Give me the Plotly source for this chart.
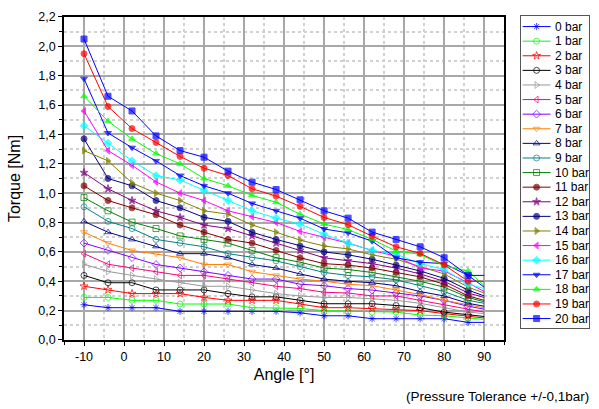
import plotly.graph_objects as go

angles = [-10, -4, 2, 8, 14, 20, 26, 32, 38, 44, 50, 56, 62, 68, 74, 80, 86, 90]
marker_angles_count = 17

x_tick_values = [-10, 0, 10, 20, 30, 40, 50, 60, 70, 80, 90]
x_tick_labels = ["-10", "0", "10", "20", "30", "40", "50", "60", "70", "80", "90"]

pressures = ["0 bar", "1 bar", "2 bar", "3 bar", "4 bar", "5 bar", "6 bar", "7 bar",
             "8 bar", "9 bar", "10 bar", "11 bar", "12 bar", "13 bar", "14 bar",
             "15 bar", "16 bar", "17 bar", "18 bar", "19 bar", "20 bar"]

torque_0 = [0.24, 0.22, 0.22, 0.22, 0.195, 0.195, 0.195, 0.195, 0.195, 0.185, 0.165, 0.165, 0.145, 0.145, 0.145, 0.145, 0.12, 0.12]
torque_1 = [0.29, 0.29, 0.27, 0.27, 0.245, 0.245, 0.245, 0.22, 0.22, 0.215, 0.20, 0.197, 0.19, 0.19, 0.17, 0.165, 0.15, 0.14]
torque_2 = [0.366, 0.341, 0.316, 0.316, 0.316, 0.29, 0.27, 0.27, 0.27, 0.245, 0.22, 0.22, 0.215, 0.21, 0.20, 0.18, 0.165, 0.15]
torque_3 = [0.44, 0.39, 0.39, 0.341, 0.341, 0.341, 0.316, 0.294, 0.294, 0.27, 0.247, 0.247, 0.247, 0.235, 0.22, 0.19, 0.17, 0.16]
torque_4 = [0.516, 0.467, 0.44, 0.415, 0.39, 0.366, 0.366, 0.341, 0.316, 0.30, 0.29, 0.29, 0.28, 0.27, 0.25, 0.22, 0.19, 0.18]
torque_5 = [0.588, 0.516, 0.49, 0.465, 0.44, 0.44, 0.415, 0.39, 0.366, 0.35, 0.325, 0.32, 0.30, 0.30, 0.27, 0.24, 0.21, 0.19]
torque_6 = [0.66, 0.61, 0.561, 0.514, 0.49, 0.465, 0.44, 0.415, 0.415, 0.38, 0.37, 0.35, 0.34, 0.32, 0.30, 0.27, 0.23, 0.21]
torque_7 = [0.734, 0.66, 0.61, 0.588, 0.561, 0.514, 0.514, 0.465, 0.44, 0.415, 0.40, 0.38, 0.37, 0.34, 0.31, 0.27, 0.24, 0.22]
torque_8 = [0.808, 0.734, 0.685, 0.638, 0.588, 0.588, 0.561, 0.514, 0.49, 0.45, 0.415, 0.40, 0.39, 0.37, 0.33, 0.30, 0.25, 0.23]
torque_9 = [0.907, 0.808, 0.759, 0.685, 0.66, 0.635, 0.588, 0.561, 0.539, 0.50, 0.46, 0.44, 0.43, 0.41, 0.37, 0.33, 0.27, 0.25]
torque_10 = [0.97, 0.88, 0.803, 0.759, 0.709, 0.685, 0.66, 0.61, 0.561, 0.53, 0.49, 0.48, 0.46, 0.43, 0.40, 0.36, 0.29, 0.26]
torque_11 = [1.05, 0.95, 0.90, 0.853, 0.783, 0.734, 0.685, 0.66, 0.61, 0.56, 0.52, 0.51, 0.49, 0.46, 0.43, 0.38, 0.30, 0.27]
torque_12 = [1.14, 1.03, 0.95, 0.88, 0.835, 0.783, 0.759, 0.709, 0.66, 0.61, 0.56, 0.54, 0.52, 0.49, 0.45, 0.40, 0.32, 0.29]
torque_13 = [1.37, 1.10, 1.05, 0.95, 0.90, 0.835, 0.808, 0.734, 0.685, 0.64, 0.60, 0.58, 0.55, 0.51, 0.47, 0.42, 0.34, 0.30]
torque_14 = [1.29, 1.22, 1.07, 1.00, 0.95, 0.88, 0.857, 0.783, 0.734, 0.68, 0.64, 0.62, 0.58, 0.55, 0.50, 0.45, 0.36, 0.32]
torque_15 = [1.56, 1.29, 1.19, 1.077, 1.00, 0.95, 0.88, 0.84, 0.80, 0.74, 0.70, 0.66, 0.61, 0.57, 0.49, 0.47, 0.39, 0.33]
torque_16 = [1.46, 1.34, 1.22, 1.12, 1.09, 1.02, 0.95, 0.88, 0.83, 0.79, 0.72, 0.66, 0.61, 0.585, 0.52, 0.48, 0.38, 0.35]
torque_17 = [1.78, 1.41, 1.31, 1.22, 1.12, 1.05, 1.00, 0.93, 0.88, 0.83, 0.756, 0.73, 0.673, 0.56, 0.53, 0.52, 0.44, 0.36]
torque_18 = [1.66, 1.49, 1.37, 1.27, 1.20, 1.10, 1.05, 0.985, 0.938, 0.857, 0.79, 0.752, 0.685, 0.606, 0.583, 0.505, 0.47, 0.37]
torque_19 = [1.95, 1.59, 1.44, 1.345, 1.25, 1.17, 1.12, 1.03, 0.98, 0.91, 0.835, 0.785, 0.707, 0.635, 0.59, 0.512, 0.40, 0.40]
torque_20 = [2.05, 1.66, 1.56, 1.39, 1.29, 1.245, 1.15, 1.075, 1.025, 0.955, 0.88, 0.83, 0.735, 0.685, 0.635, 0.56, 0.44, 0.44]

series = [torque_0, torque_1, torque_2, torque_3, torque_4, torque_5, torque_6, torque_7,
          torque_8, torque_9, torque_10, torque_11, torque_12, torque_13, torque_14,
          torque_15, torque_16, torque_17, torque_18, torque_19, torque_20]

colors = ["#0000FF", "#00FF00", "#FF0000", "#000000", "#999999", "#FF0080", "#8000FF",
          "#FF8000", "#000080", "#008080", "#008000", "#800000", "#800080", "#000080",
          "#808000", "#FF00FF", "#00FFFF", "#0000FF", "#00FF00", "#FF0000", "#0000FF"]
symbols = ["asterisk-open", "circle-open", "star-open", "circle-open", "triangle-right-open",
           "triangle-left-open", "diamond-open", "triangle-down-open", "triangle-up-open",
           "circle-open", "square-open", "circle", "star", "circle", "triangle-right",
           "triangle-left", "diamond", "triangle-down", "triangle-up", "circle", "square"]

font_family = "Liberation Sans, Arial, sans-serif"

fig = go.Figure()
for name, vals, col, sym in zip(pressures, series, colors, symbols):
    sizes = [6] * marker_angles_count + [0] * (len(angles) - marker_angles_count)
    fig.add_trace(go.Scatter(
        x=angles, y=vals, name=name, mode="lines+markers", showlegend=False,
        line=dict(color=col, width=1),
        marker=dict(symbol=sym, size=sizes, color=col, line=dict(color=col, width=1)),
        xaxis="x", yaxis="y",
    ))

# Legend drawn in its own small axes (Plotly's built-in legend rows are too tall)
annotations = []
for i, (name, col, sym) in enumerate(zip(pressures, colors, symbols)):
    fig.add_trace(go.Scatter(
        x=[1.5, 15.5, 29.5], y=[i, i, i], mode="lines+markers", showlegend=False,
        hoverinfo="skip",
        line=dict(color=col, width=1),
        marker=dict(symbol=sym, size=[0, 6, 0], color=col, line=dict(color=col, width=1)),
        xaxis="x2", yaxis="y2",
    ))
    annotations.append(dict(
        text=name, x=32, y=i, xref="x2", yref="y2", xanchor="left", yanchor="middle",
        showarrow=False, font=dict(size=12, family=font_family, color="black"),
    ))

annotations.append(dict(
    text="(Pressure Tolerance +/-0,1bar)", xref="paper", yref="paper",
    x=1.004, y=-0.174, xanchor="right", yanchor="middle", showarrow=False,
    font=dict(size=13.5, family=font_family, color="black"),
))

fig.update_layout(
    width=599, height=409,
    margin=dict(l=64, r=9, t=12, b=69),
    paper_bgcolor="white", plot_bgcolor="white",
    separators=",.",
    font=dict(family=font_family, size=12, color="black"),
    showlegend=False,
    xaxis=dict(
        domain=[0, 0.8384], anchor="y",
        range=[-15, 95], tickvals=x_tick_values, ticktext=x_tick_labels,
        showline=True, linecolor="black", linewidth=1.5, mirror=True,
        ticks="outside", ticklen=4, tickcolor="black",
        showgrid=True, gridcolor="#A8A8A8", gridwidth=1.5, zeroline=False,
        minor=dict(dtick=5, tick0=-15, showgrid=True, gridcolor="#D0D0D0", griddash="dot",
                   ticks="outside", ticklen=3, tickcolor="black"),
        title=dict(text="Angle [°]", font=dict(size=16), standoff=6),
        tickfont=dict(size=12.5),
    ),
    yaxis=dict(
        domain=[0, 0.99695], anchor="x",
        range=[0, 2.2], dtick=0.2, tickformat=".1f",
        showline=True, linecolor="black", linewidth=1.5, mirror=True,
        ticks="outside", ticklen=4, tickcolor="black",
        showgrid=True, gridcolor="#A8A8A8", gridwidth=1.5, zeroline=False,
        minor=dict(dtick=0.1, showgrid=True, gridcolor="#D0D0D0", griddash="dot",
                   ticks="outside", ticklen=3, tickcolor="black"),
        title=dict(text="Torque [Nm]", font=dict(size=16), standoff=14),
        tickfont=dict(size=12.5),
    ),
    xaxis2=dict(
        domain=[0.8707, 1.0], anchor="y2", range=[0, 68],
        showline=True, linecolor="#555555", linewidth=1, mirror=True,
        showticklabels=False, ticks="", showgrid=False, zeroline=False, fixedrange=True,
    ),
    yaxis2=dict(
        domain=[0.0366, 1.0], anchor="x2", range=[20.656, -0.724],
        showline=True, linecolor="#555555", linewidth=1, mirror=True,
        showticklabels=False, ticks="", showgrid=False, zeroline=False, fixedrange=True,
    ),
    annotations=annotations,
)

fig.write_html(
    "out.html",
    config={"displayModeBar": False},
    post_script="document.body.style.margin='0px';document.body.style.overflow='hidden';",
)
